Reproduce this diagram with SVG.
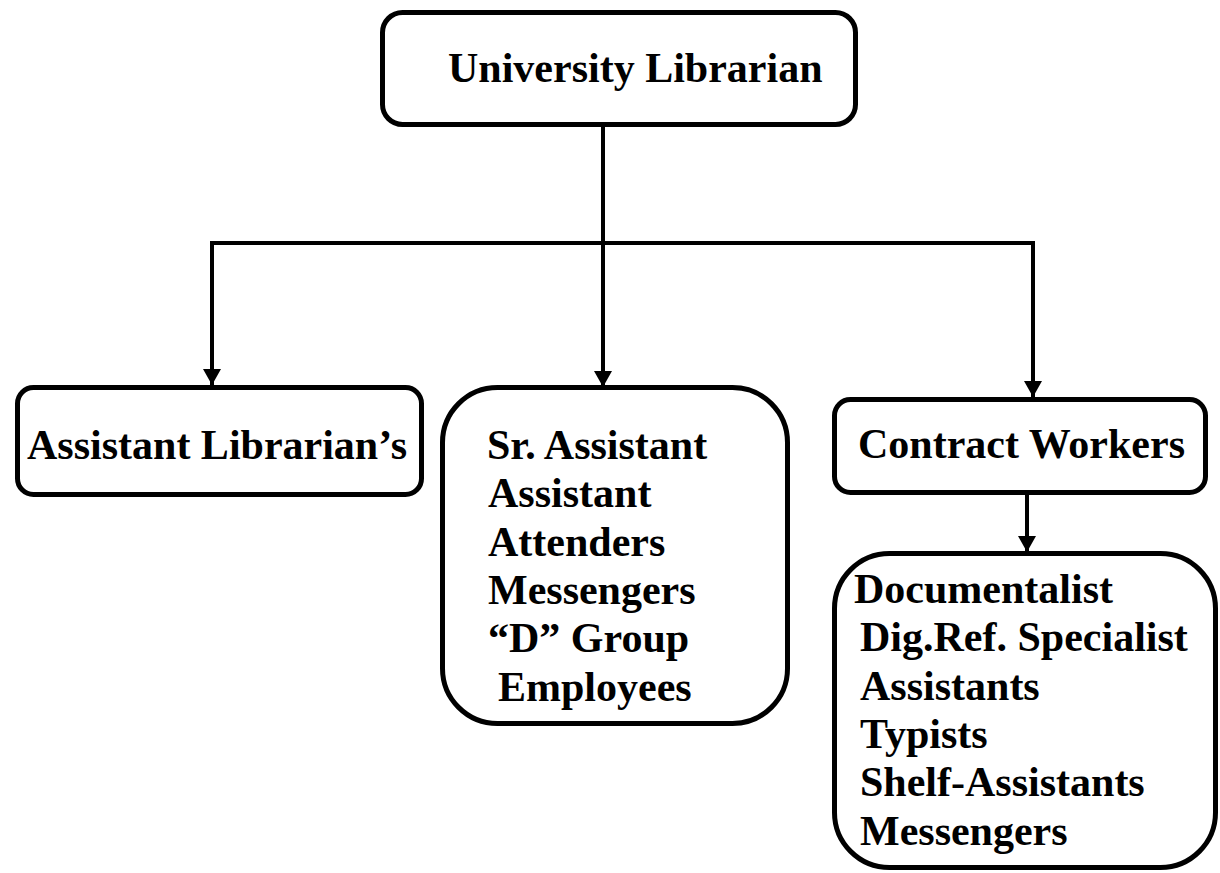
<svg xmlns="http://www.w3.org/2000/svg" width="1220" height="873" viewBox="0 0 1220 873">
<style>
.box{fill:#fff;stroke:#000;stroke-width:5}
.t{font-family:"Liberation Serif","Times New Roman",serif;font-weight:bold;font-size:42px;fill:#000}
.ln{fill:none;stroke:#000;stroke-width:4}
</style>
<defs>
<marker id="ah" markerUnits="userSpaceOnUse" markerWidth="18" markerHeight="18" viewBox="0 0 18 18" refX="16" refY="9" orient="auto">
<path d="M0,0 L16,9 L0,18 Z" fill="#000"/>
</marker>
</defs>
<rect width="1220" height="873" fill="#fff"/>
<g id="connectors">
<line class="ln" x1="603" y1="127" x2="603" y2="243"/>
<polyline class="ln" points="212,385 212,243 1033,243 1033,396"/>
<line class="ln" x1="212" y1="243" x2="212" y2="385" marker-end="url(#ah)"/>
<line class="ln" x1="603" y1="243" x2="603" y2="387" marker-end="url(#ah)"/>
<line class="ln" x1="1033" y1="243" x2="1033" y2="397" marker-end="url(#ah)"/>
<line class="ln" x1="1027" y1="494" x2="1027" y2="552" marker-end="url(#ah)"/>
</g>
<g id="university-librarian">
<rect class="box" x="382.5" y="12.5" width="473" height="112" rx="20"/>
<text class="t" x="448" y="82">University Librarian</text>
</g>
<g id="assistant-librarians">
<rect class="box" x="17.5" y="387.5" width="404" height="107" rx="16"/>
<text class="t" x="27" y="459">Assistant Librarian’s</text>
</g>
<g id="staff">
<rect class="box" x="442.5" y="387.5" width="345" height="336" rx="55"/>
<text class="t" x="487" y="459">Sr. Assistant</text>
<text class="t" x="488" y="507">Assistant</text>
<text class="t" x="488" y="556">Attenders</text>
<text class="t" x="488" y="604">Messengers</text>
<text class="t" x="488" y="652">“D” Group</text>
<text class="t" x="498" y="701">Employees</text>
</g>
<g id="contract-workers">
<rect class="box" x="834.5" y="399.5" width="371" height="93" rx="16"/>
<text class="t" x="858" y="458">Contract Workers</text>
</g>
<g id="contract-staff">
<rect class="box" x="834.5" y="553.5" width="381" height="314" rx="55"/>
<text class="t" x="854" y="603">Documentalist</text>
<text class="t" x="860" y="651">Dig.Ref. Specialist</text>
<text class="t" x="860" y="700">Assistants</text>
<text class="t" x="860" y="748">Typists</text>
<text class="t" x="860" y="796">Shelf-Assistants</text>
<text class="t" x="860" y="845">Messengers</text>
</g>
</svg>
